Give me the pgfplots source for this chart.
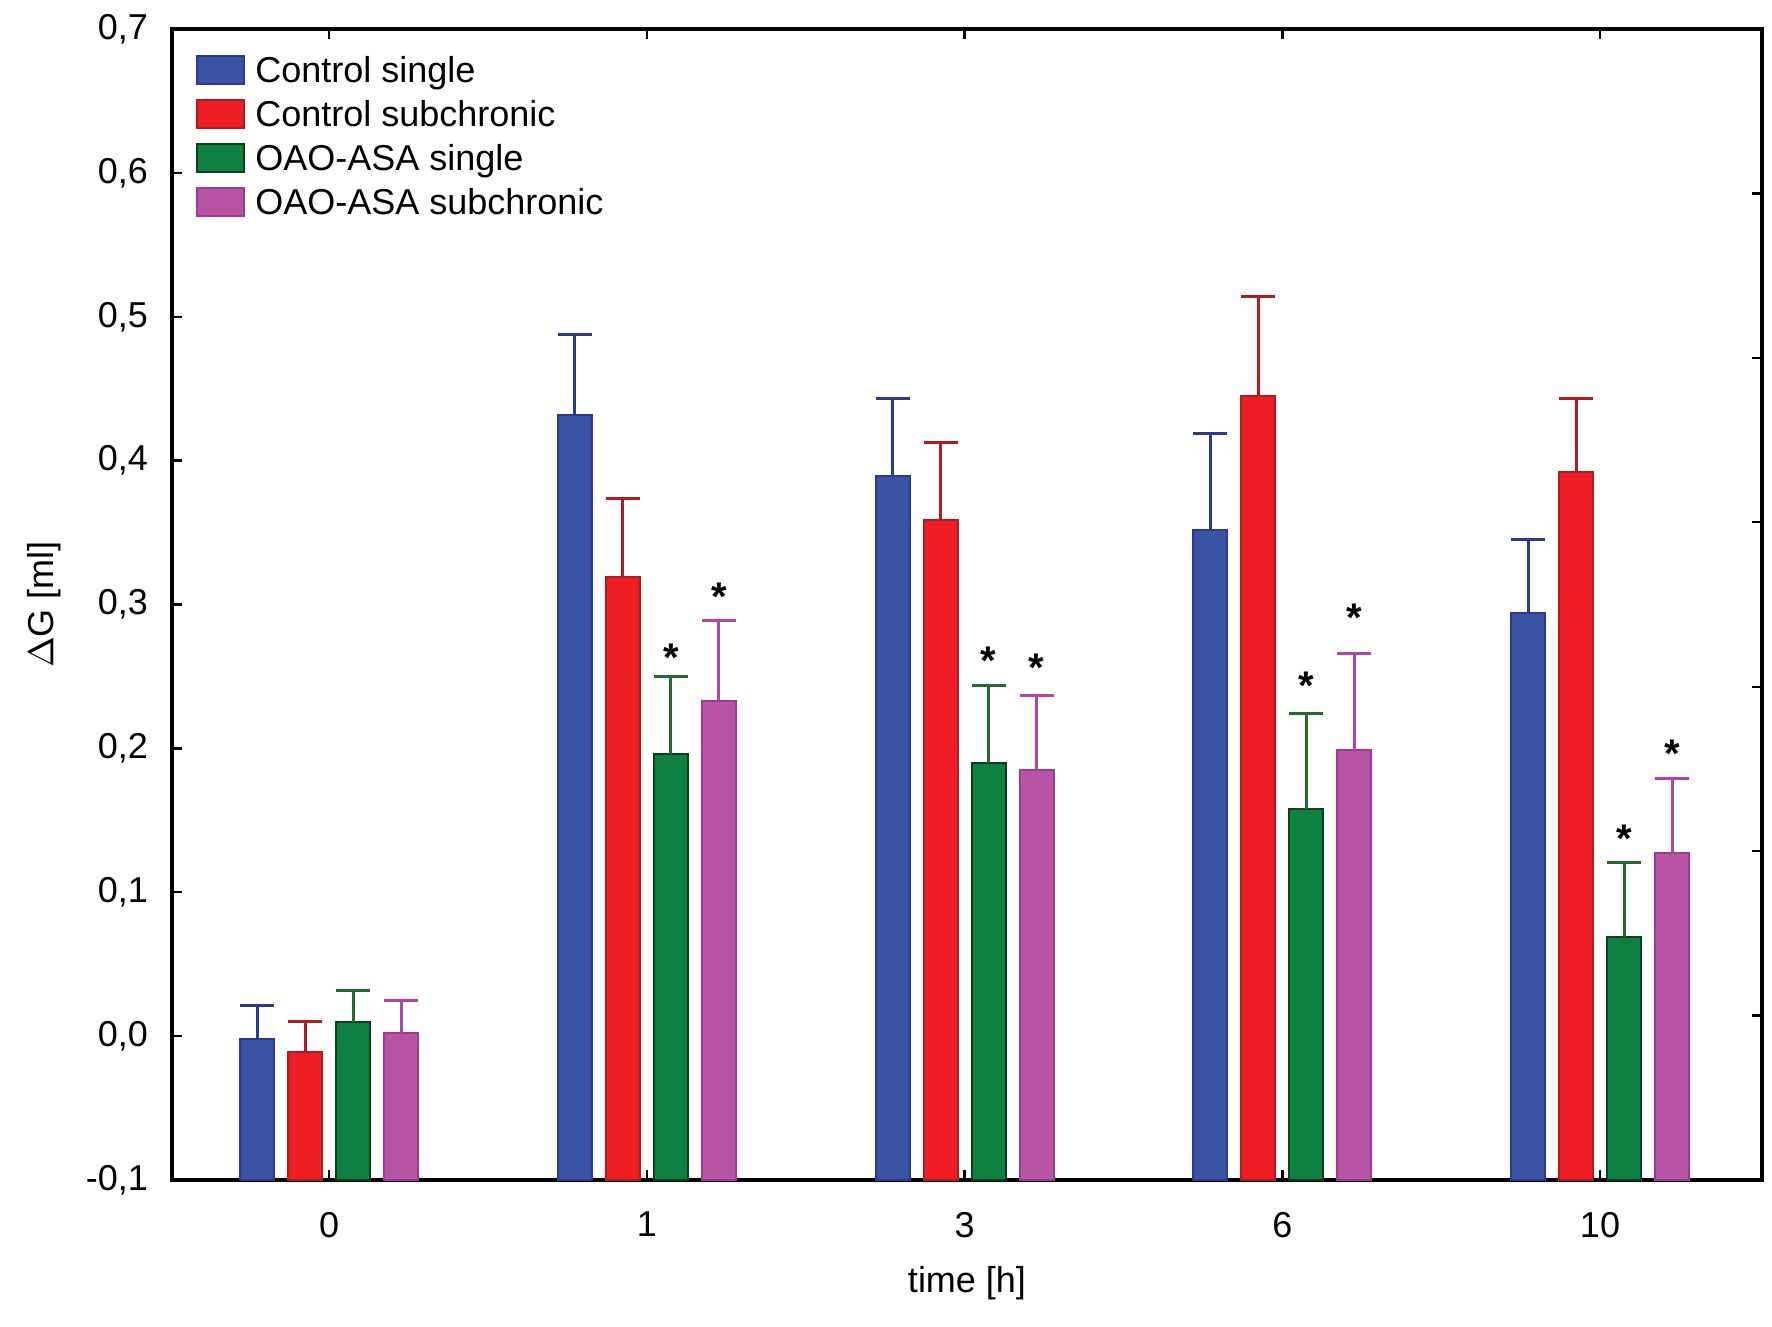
\documentclass[border=0pt]{standalone}
\usepackage{fontspec}
\setmainfont{Liberation Sans}
\usepackage{pgfplots}
\usepackage{pgfplotstable}
\pgfplotsset{compat=1.18}

\definecolor{cblue}{HTML}{3A53A4}
\definecolor{cblueD}{HTML}{2B3990}
\definecolor{cred}{HTML}{EE1D24}
\definecolor{credD}{HTML}{B01C22}
\definecolor{cgreen}{HTML}{0E8040}
\definecolor{cgreenD}{HTML}{0A4020}
\definecolor{cgreenE}{HTML}{1F6B30}
\definecolor{cpurple}{HTML}{B954A5}
\definecolor{cpurpleD}{HTML}{9B3B96}
\definecolor{cpurpleE}{HTML}{B044A8}

\pgfplotstableread{
x y e
0 -0.002 0.023
1 0.432 0.056
2 0.389 0.054
3 0.352 0.067
4 0.294 0.051
}\csingle
\pgfplotstableread{
x y e
0 -0.011 0.021
1 0.319 0.055
2 0.3585 0.054
3 0.445 0.069
4 0.392 0.051
}\csub
\pgfplotstableread{
x y e
0 0.010 0.022
1 0.196 0.054
2 0.190 0.054
3 0.158 0.066
4 0.069 0.052
}\osingle
\pgfplotstableread{
x y e
0 0.002 0.023
1 0.233 0.056
2 0.185 0.052
3 0.199 0.067
4 0.127 0.052
}\osub

\newcommand{\ff}{\fontsize{9}{10.8}\selectfont}

\begin{document}
\begin{tikzpicture}
\path[use as bounding box] (-43pt,-36.5pt) rectangle (400pt,295pt);
\begin{axis}[
  at={(0,0)}, anchor=south west,
  scale only axis, width=397.5pt, height=287.75pt,
  ybar,
  bar width=8.5pt,
  xmin=-0.495, xmax=4.51,
  y coord trafo/.code={\pgfmathparse{#1+0.1}},
  y coord inv trafo/.code={\pgfmathparse{#1-0.1}},
  ymin=-0.1, ymax=0.7,
  ytick={-0.1,0,0.1,0.2,0.3,0.4,0.5,0.6,0.7},
  yticklabels={{-0,1},{0,0},{0,1},{0,2},{0,3},{0,4},{0,5},{0,6},{0,7}},
  xtick={0,1,2,3,4},
  xticklabels={0,1,3,6,10},
  ytick pos=left,
  tick align=inside,
  major tick length=2.5pt,
  tick style={black, line width=0.6pt},
  axis line style={black, line width=0.8pt},
  ticklabel style={font=\ff},
  yticklabel style={xshift=-2.5pt},
  xticklabel style={yshift=-4.5pt},
  xlabel={time [h]},
  ylabel={$\Delta$G [ml]},
  every axis x label/.style={at={(axis description cs:0.5,0)}, anchor=north, yshift=-18pt, font=\ff},
  every axis y label/.style={at={(axis description cs:0,0.5)}, rotate=90, anchor=center, yshift=32pt, font=\ff},
  legend style={at={(axis description cs:0,1)}, anchor=north west, xshift=5.75pt, yshift=-4.5pt,
    draw=none, fill=none, inner sep=0pt, row sep=0pt, column sep=0pt,
    nodes={inner sep=0pt, font=\ff, text height=8.7pt, text depth=2.3pt}},
  legend cell align=left,
  legend image code/.code={\draw[#1] (0pt,-3.5pt) rectangle (11.75pt,3.5pt); \path (14.4pt,0pt);},
  error bars/y dir=plus,
  error bars/y explicit,
  error bars/error mark=-,
]
\addplot[fill=cblue, draw=cblueD, line width=0.5pt, bar shift=-18pt,
  error bars/error bar style={line width=0.75pt, cblueD},
  error bars/error mark options={rotate=90, line width=0.75pt, cblueD, mark size=4.25pt}]
  table[x=x, y=y, y error=e] {\csingle};
\addplot[fill=cred, draw=credD, line width=0.5pt, bar shift=-6pt,
  error bars/error bar style={line width=0.75pt, credD},
  error bars/error mark options={rotate=90, line width=0.75pt, credD, mark size=4.25pt}]
  table[x=x, y=y, y error=e] {\csub};
\addplot[fill=cgreen, draw=cgreenD, line width=0.5pt, bar shift=6pt,
  error bars/error bar style={line width=0.75pt, cgreenE},
  error bars/error mark options={rotate=90, line width=0.75pt, cgreenE, mark size=4.25pt}]
  table[x=x, y=y, y error=e] {\osingle};
\addplot[fill=cpurple, draw=cpurpleD, line width=0.5pt, bar shift=18pt,
  error bars/error bar style={line width=0.75pt, cpurpleE},
  error bars/error mark options={rotate=90, line width=0.75pt, cpurpleE, mark size=4.25pt}]
  table[x=x, y=y, y error=e] {\osub};
\legend{Control single, Control subchronic, OAO-ASA single, OAO-ASA subchronic}

\node[font=\fontsize{10}{12}\selectfont\bfseries, xshift=6pt, yshift=-2pt] at (axis cs:1,0.2687) {*};
\node[font=\fontsize{10}{12}\selectfont\bfseries, xshift=18pt, yshift=-2pt] at (axis cs:1,0.3113) {*};
\node[font=\fontsize{10}{12}\selectfont\bfseries, xshift=6pt, yshift=-2pt] at (axis cs:2,0.2664) {*};
\node[font=\fontsize{10}{12}\selectfont\bfseries, xshift=18pt, yshift=-2pt] at (axis cs:2,0.2616) {*};
\node[font=\fontsize{10}{12}\selectfont\bfseries, xshift=6pt, yshift=-2pt] at (axis cs:3,0.2490) {*};
\node[font=\fontsize{10}{12}\selectfont\bfseries, xshift=18pt, yshift=-2pt] at (axis cs:3,0.2963) {*};
\node[font=\fontsize{10}{12}\selectfont\bfseries, xshift=6pt, yshift=-2pt] at (axis cs:4,0.1426) {*};
\node[font=\fontsize{10}{12}\selectfont\bfseries, xshift=18pt, yshift=-2pt] at (axis cs:4,0.2017) {*};
\end{axis}
\begin{axis}[
  at={(0,0)}, anchor=south west,
  scale only axis, width=397.5pt, height=287.75pt,
  xmin=0, xmax=1, ymin=0, ymax=7,
  axis x line=none, axis y line*=right,
  y axis line style={draw=none},
  ytick={1,2,3,4,5,6}, yticklabels={},
  tick align=inside, major tick length=2.5pt,
  tick style={black, line width=0.6pt},
]
\addplot[draw=none] coordinates {(0,0) (1,7)};
\end{axis}
\end{tikzpicture}
\end{document}
